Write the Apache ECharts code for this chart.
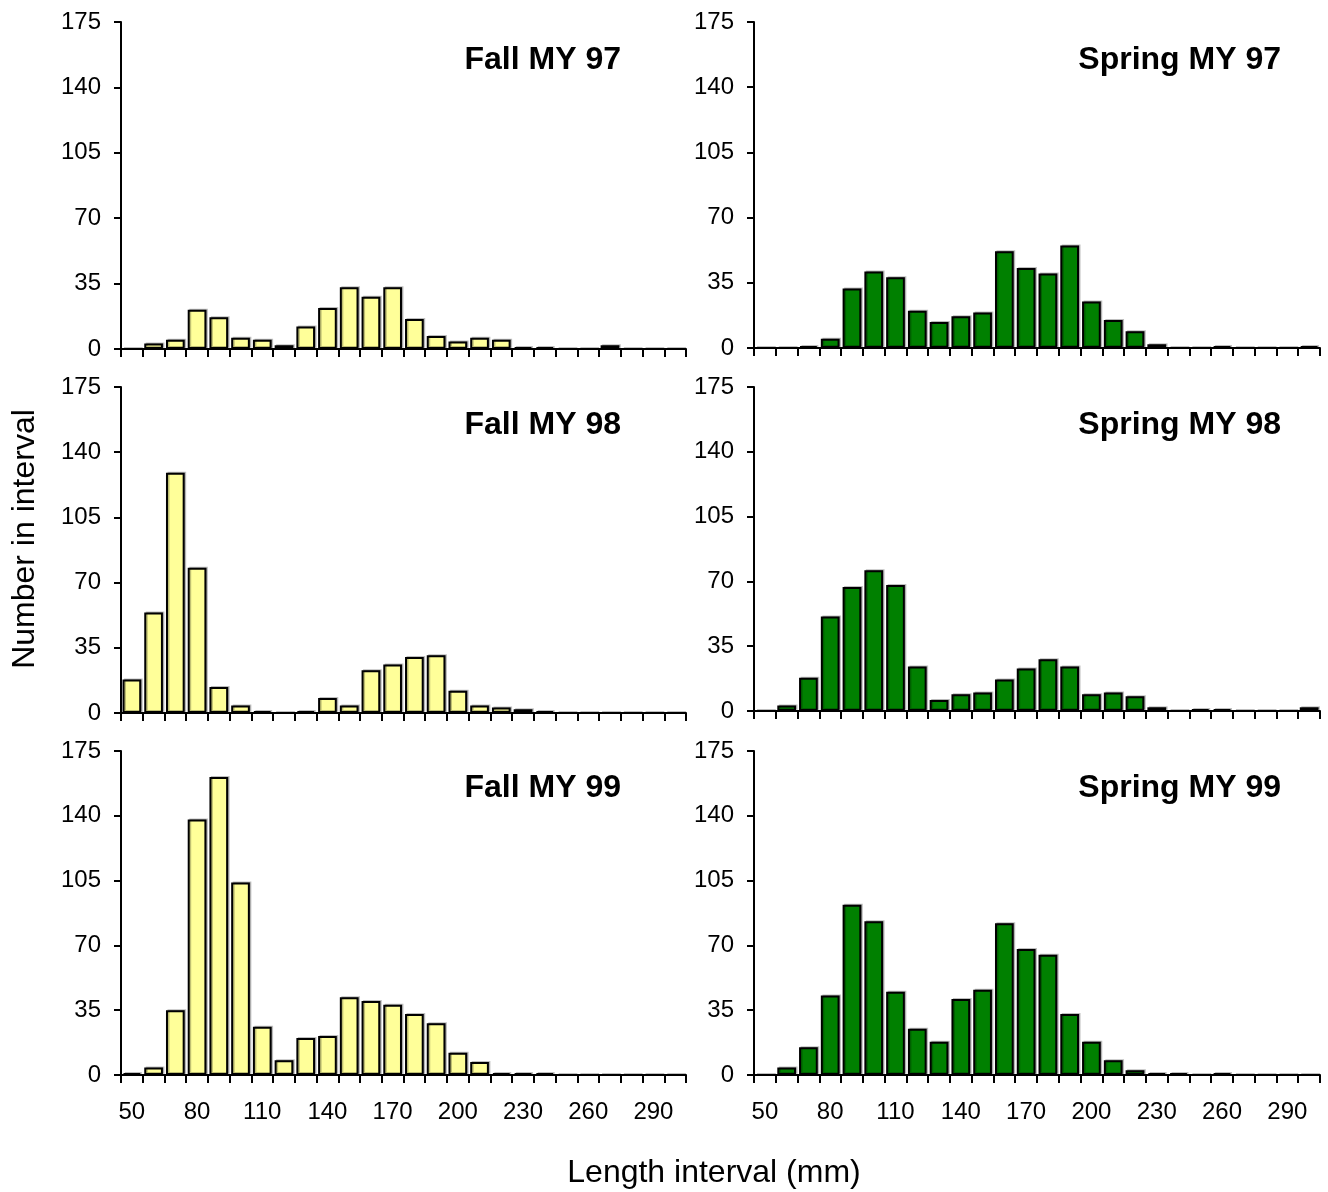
<!DOCTYPE html>
<html>
<head>
<meta charset="utf-8">
<script src="https://cdn.jsdelivr.net/npm/echarts@6/dist/echarts.min.js"></script>
<style>
  html, body { margin: 0; padding: 0; background: #fff; }
  #chart { width: 1328px; height: 1192px; }
</style>
</head>
<body>
<div id="chart"></div>
<script type="text/javascript">
	// length intervals (mm)
	var categories = ['50','60','70','80','90','100','110','120','130','140','150','160','170',
		'180','190','200','210','220','230','240','250','260','270','280','290','300'];
	var yTicks = [0, 35, 70, 105, 140, 175];

	// counts per interval
	var fall97   = [0, 3, 5, 21, 17, 6, 5, 2, 12, 22, 33, 28, 33, 16, 7, 4, 6, 5, 1, 1, 0, 0, 2, 0, 0, 0];
	var spring97 = [0, 0, 1, 5, 32, 41, 38, 20, 14, 17, 19, 52, 43, 40, 55, 25, 15, 9, 2, 0, 0, 1, 0, 0, 0, 1];
	var fall98   = [18, 54, 129, 78, 14, 4, 1, 0, 1, 8, 4, 23, 26, 30, 31, 12, 4, 3, 2, 1, 0, 0, 0, 0, 0, 0];
	var spring98 = [0, 3, 18, 51, 67, 76, 68, 24, 6, 9, 10, 17, 23, 28, 24, 9, 10, 8, 2, 0, 1, 1, 0, 0, 0, 2];
	var fall99   = [1, 4, 35, 138, 161, 104, 26, 8, 20, 21, 42, 40, 38, 33, 28, 12, 7, 1, 1, 1, 0, 0, 0, 0, 0, 0];
	var spring99 = [0, 4, 15, 43, 92, 83, 45, 25, 18, 41, 46, 82, 68, 65, 33, 18, 8, 2.5, 1, 1, 0, 1, 0, 0, 0, 0];

	var panels = [
		{title: 'Fall MY 97',   data: fall97,   color: '#ffff99'},
		{title: 'Spring MY 97', data: spring97, color: '#008000'},
		{title: 'Fall MY 98',   data: fall98,   color: '#ffff99'},
		{title: 'Spring MY 98', data: spring98, color: '#008000'},
		{title: 'Fall MY 99',   data: fall99,   color: '#ffff99'},
		{title: 'Spring MY 99', data: spring99, color: '#008000'}
	];

	// layout of the 2 x 3 grid
	var colLeft  = [121, 754];
	var colWidth = [565, 566];
	var rowTop   = [[22, 22], [387, 387], [751, 751]];
	var rowH     = [[327, 326], [326, 324], [324, 324]];
	var titleRight = [707, 47];
	var titleTop   = [44, 409, 772];

	var fontFam = '"Liberation Sans", Arial, sans-serif';
	var grids = [], xAxes = [], yAxes = [], series = [], titles = [];

	panels.forEach(function (p, i) {
		var row = Math.floor(i / 2), col = i % 2;
		grids.push({
			left: colLeft[col], top: rowTop[row][col],
			width: colWidth[col], height: rowH[row][col],
			containLabel: false
		});
		xAxes.push({
			type: 'category', gridIndex: i, data: categories,
			boundaryGap: true,
			axisLine: {lineStyle: {color: '#000', width: 2}},
			axisTick: {show: true, interval: 0, length: 8, alignWithLabel: false,
				lineStyle: {color: '#000', width: 2}},
			axisLabel: {show: row === 2, interval: 2, color: '#000', fontSize: 24,
				fontFamily: fontFam, margin: 25},
			splitLine: {show: false}
		});
		yAxes.push({
			type: 'value', gridIndex: i, min: yTicks[0], max: yTicks[yTicks.length - 1],
			interval: yTicks[1] - yTicks[0],
			axisLine: {show: true, lineStyle: {color: '#000', width: 2}},
			axisTick: {show: true, length: 7, lineStyle: {color: '#000', width: 2}},
			axisLabel: {color: '#000', fontSize: 24, fontFamily: fontFam, margin: 20},
			splitLine: {show: false}
		});
		series.push({
			type: 'bar', xAxisIndex: i, yAxisIndex: i, data: p.data,
			barCategoryGap: '14%',
			itemStyle: {color: p.color, borderColor: '#000', borderWidth: 2,
				shadowColor: 'rgba(0,0,0,0.25)', shadowOffsetX: 1.5, shadowOffsetY: -1},
			emphasis: {disabled: true},
			animation: false
		});
		titles.push({
			text: p.title, right: titleRight[col], top: titleTop[row], padding: 0,
			textStyle: {fontSize: 32, fontWeight: 'bold', color: '#000', fontFamily: fontFam}
		});
	});

	var chart = echarts.init(document.getElementById('chart'), null, {renderer: 'canvas'});
	chart.setOption({
		backgroundColor: '#fff',
		animation: false,
		title: titles,
		grid: grids,
		xAxis: xAxes,
		yAxis: yAxes,
		series: series,
		graphic: [
			{type: 'text', x: 714, y: 1173, style: {text: 'Length interval (mm)', fontSize: 32,
				fontFamily: fontFam, fill: '#000', textAlign: 'center', textVerticalAlign: 'middle'}},
			{type: 'text', x: 25, y: 539, rotation: Math.PI / 2, style: {text: 'Number in interval',
				fontSize: 32, fontFamily: fontFam, fill: '#000', textAlign: 'center', textVerticalAlign: 'middle'}}
		]
	});
	window.onresize = function () {
		chart.resize();
	};
</script>
</body>
</html>
